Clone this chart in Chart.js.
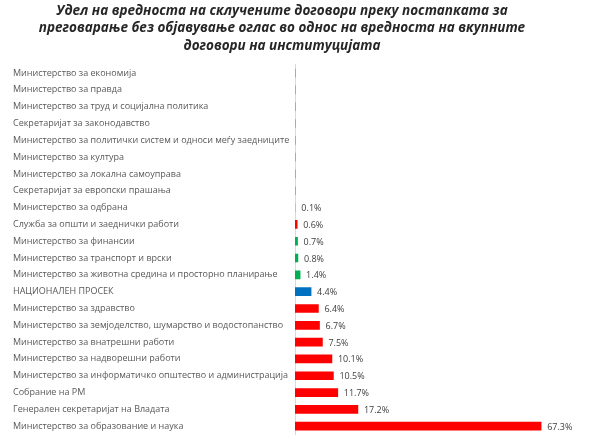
<!DOCTYPE html>
<html>
<head>
<meta charset="utf-8">
<script src="https://cdn.jsdelivr.net/npm/chart.js@4.4.1/dist/chart.umd.min.js"></script>
<style>
  html, body { margin: 0; padding: 0; background: #fff; }
  #wrap { width: 600px; height: 446px; position: relative; }
</style>
</head>
<body>
<div id="wrap"><canvas id="chart"></canvas></div>
<script>
// Удел на договори преку преговарање без оглас, по институција
const titleLines = [
  'Удел на вредноста на склучените договори преку постапката за',
  'преговарање без објавување оглас во однос на вредноста на вкупните',
  'договори на институцијата'
];

const institutions = [
  'Министерство за економија',
  'Министерство за правда',
  'Министерство за труд и социјална политика',
  'Секретаријат за законодавство',
  'Министерство за политички систем и односи меѓу заедниците',
  'Министерство за култура',
  'Министерство за локална самоуправа',
  'Секретаријат за европски прашања',
  'Министерство за одбрана',
  'Служба за општи и заеднички работи',
  'Министерство за финансии',
  'Министерство за транспорт и врски',
  'Министерство за животна средина и просторно планирање',
  'НАЦИОНАЛЕН ПРОСЕК',
  'Министерство за здравство',
  'Министерство за земјоделство, шумарство и водостопанство',
  'Министерство за внатрешни работи',
  'Министерство за надворешни работи',
  'Министерство за информатичко општество и администрација',
  'Собрание на РМ',
  'Генерален секретаријат на Владата',
  'Министерство за образование и наука'
];

const shares = [0, 0, 0, 0, 0, 0, 0, 0, 0.1, 0.6, 0.7, 0.8, 1.4, 4.4, 6.4, 6.7, 7.5, 10.1, 10.5, 11.7, 17.2, 67.3];

const barColors = [
  '#FF0000', '#FF0000', '#FF0000', '#FF0000', '#FF0000', '#FF0000', '#FF0000', '#FF0000',
  '#FF9999', '#FF0000', '#00B050', '#00B050', '#00B050', '#0070C0',
  '#FF0000', '#FF0000', '#FF0000', '#FF0000', '#FF0000', '#FF0000', '#FF0000', '#FF0000'
];

const LABEL_FONT = '"Open Sans", "Noto Sans", sans-serif';

const valueLabels = {
  id: 'valueLabels',
  afterDatasetsDraw(chart) {
    const ctx = chart.ctx;
    const meta = chart.getDatasetMeta(0);
    ctx.save();
    ctx.font = '9px ' + LABEL_FONT;
    ctx.fillStyle = '#404040';
    ctx.textAlign = 'left';
    ctx.textBaseline = 'middle';
    meta.data.forEach((bar, i) => {
      const v = shares[i];
      if (!v) return;
      ctx.fillText(v.toFixed(1) + '%', bar.x + 6, bar.y + 1);
    });
    ctx.restore();
  }
};

new Chart(document.getElementById('chart'), {
  type: 'bar',
  data: {
    labels: institutions,
    datasets: [{
      data: shares,
      backgroundColor: barColors,
      borderWidth: 0,
      barThickness: 8
    }]
  },
  options: {
    indexAxis: 'y',
    responsive: true,
    maintainAspectRatio: false,
    animation: false,
    layout: { padding: { left: 13, right: 49, top: 0, bottom: 11 } },
    plugins: {
      legend: { display: false },
      tooltip: { enabled: false },
      title: {
        display: true,
        text: titleLines,
        color: '#262626',
        font: { family: LABEL_FONT, size: 13.5, weight: 'bold', style: 'italic', lineHeight: 1.3 },
        padding: { top: 2, bottom: 10 }
      }
    },
    scales: {
      x: { display: false, min: 0, max: 70 },
      y: {
        grid: { display: false },
        border: { display: true, color: '#d9d9d9' },
        afterFit(scale) { scale.width = 282; },
        ticks: {
          crossAlign: 'far',
          color: '#595959',
          font: { family: LABEL_FONT, size: 9 },
          padding: 6,
          autoSkip: false
        }
      }
    }
  },
  plugins: [valueLabels]
});
</script>
</body>
</html>
